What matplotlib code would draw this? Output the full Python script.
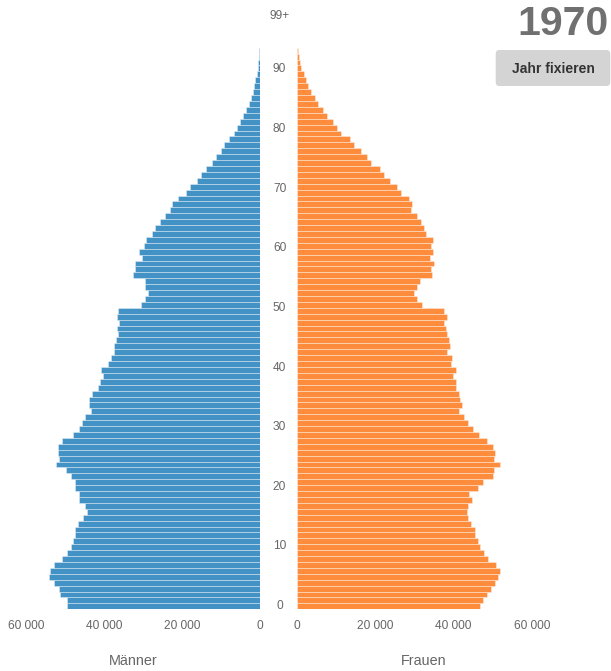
import matplotlib
matplotlib.use('Agg')
import matplotlib.pyplot as plt
from matplotlib.patches import FancyBboxPatch
from matplotlib.transforms import blended_transform_factory

plt.rcParams['font.family'] = ['Liberation Sans', 'DejaVu Sans']

# Population by single year of age, 1970
ages = list(range(100))
age_ticks = [0, 10, 20, 30, 40, 50, 60, 70, 80, 90, 99]
age_tick_labels = ['0', '10', '20', '30', '40', '50', '60', '70', '80', '90', '99+']
count_ticks = [0, 20000, 40000, 60000]
count_tick_labels = ['0', '20 000', '40 000', '60 000']
year = '1970'

men = [49300, 49300, 51200, 51500, 52800, 54000, 53800, 52700, 50800, 49500,
       48500, 48000, 47400, 47400, 46600, 45300, 44400, 44800, 46300, 46300,
       47300, 47300, 48400, 49600, 52300, 51600, 51800, 51700, 50700, 47900,
       46400, 45600, 44700, 43400, 43900, 43800, 43100, 41500, 41100, 40300,
       40600, 38900, 38200, 37500, 37400, 36900, 36400, 36700, 36200, 36700,
       36400, 30600, 29500, 28700, 29500, 29500, 32400, 32000, 32000, 30200,
       30900, 29700, 29200, 27700, 27000, 25600, 24400, 23000, 22500, 20900,
       18900, 18000, 16100, 15000, 13800, 12400, 11200, 10100, 9100, 7900,
       6700, 5900, 5100, 4400, 3700, 2900, 2300, 1900, 1500, 1200,
       850, 600, 430, 260, 170, 120, 80, 50, 30, 30]

women = [46800, 47600, 48700, 49500, 50600, 51300, 51900, 50800, 48800, 47900,
         46800, 46200, 45500, 45500, 44500, 43700, 43600, 43800, 44800, 43900,
         46300, 47500, 50100, 50500, 51900, 50500, 50700, 50200, 48600, 46500,
         44900, 43700, 42800, 41400, 42200, 41800, 41400, 40700, 40600, 40000,
         40800, 39500, 39600, 38300, 39100, 38900, 38500, 38200, 37500, 38300,
         37600, 32000, 30800, 30000, 30700, 31400, 34500, 34400, 35000, 34100,
         34900, 34400, 34900, 33000, 32400, 31700, 30700, 29200, 29400, 28800,
         26600, 25500, 23900, 22300, 21200, 19000, 17900, 16400, 14700, 13600,
         11300, 10400, 9200, 7700, 6600, 5500, 4700, 3700, 3000, 2300,
         1800, 1200, 850, 500, 300, 200, 120, 70, 40, 50]

BLUE = '#4292c6'
ORANGE = '#fd8d3c'
GREY = '#666666'

W, H = 611, 671
fig = plt.figure(figsize=(W / 100, H / 100), dpi=100)

bottom = 1 - 609.3 / H
height = (609.3 - 18.2) / H
ax_m = fig.add_axes([25.7 / W, bottom, 234.3 / W, height])
ax_f = fig.add_axes([296.7 / W, bottom, 235.0 / W, height])

sep = (1, 1, 1, 0.55)
ax_m.barh(ages, men, height=1, color=BLUE, edgecolor=sep, linewidth=0.45)
ax_f.barh(ages, women, height=1, color=ORANGE, edgecolor=sep, linewidth=0.45)

ax_m.set_xlim(60000, 0)
ax_f.set_xlim(0, 60000)

for ax in (ax_m, ax_f):
    ax.set_ylim(-0.5, 99.5)
    ax.set_yticks([])
    for s in ax.spines.values():
        s.set_visible(False)
    ax.set_xticks(count_ticks)
    ax.set_xticklabels(count_tick_labels)
    ax.tick_params(axis='x', length=0, pad=7.7, labelsize=8.6, labelcolor=GREY)
    ax.set_facecolor('none')

# age labels in the middle; the original places them on a slightly
# wider scale than the bars, so they drift upward a little with age
trans = blended_transform_factory(fig.transFigure, ax_m.transData)
for a, lab in zip(age_ticks, age_tick_labels):
    ax_m.text(279.5 / W, 0.06 + 1.0085 * a, lab, transform=trans,
              ha='center', va='center', fontsize=8.6, color=GREY, clip_on=False)

fig.text(133.3 / W, 1 - 661 / H, 'Männer', ha='center', va='center',
         fontsize=10.4, color=GREY)
fig.text(423.7 / W, 1 - 661 / H, 'Frauen', ha='center', va='center',
         fontsize=10.4, color=GREY)

# year and button
fig.text(609 / W, 1 - 24 / H, year, ha='right', va='center',
         fontsize=29.6, fontweight='bold', color='#707070')
btn = FancyBboxPatch((495.7 / W, 1 - 86 / H), (610.3 - 495.7) / W, 36 / H,
                     boxstyle='round,pad=0,rounding_size=0.006',
                     transform=fig.transFigure, facecolor='#d4d4d4',
                     edgecolor='none')
fig.patches.append(btn)
fig.text(553 / W, 1 - 69 / H, 'Jahr fixieren', ha='center', va='center',
         fontsize=10, fontweight='bold', color='#333333')

fig.savefig('out.png', dpi=100)
